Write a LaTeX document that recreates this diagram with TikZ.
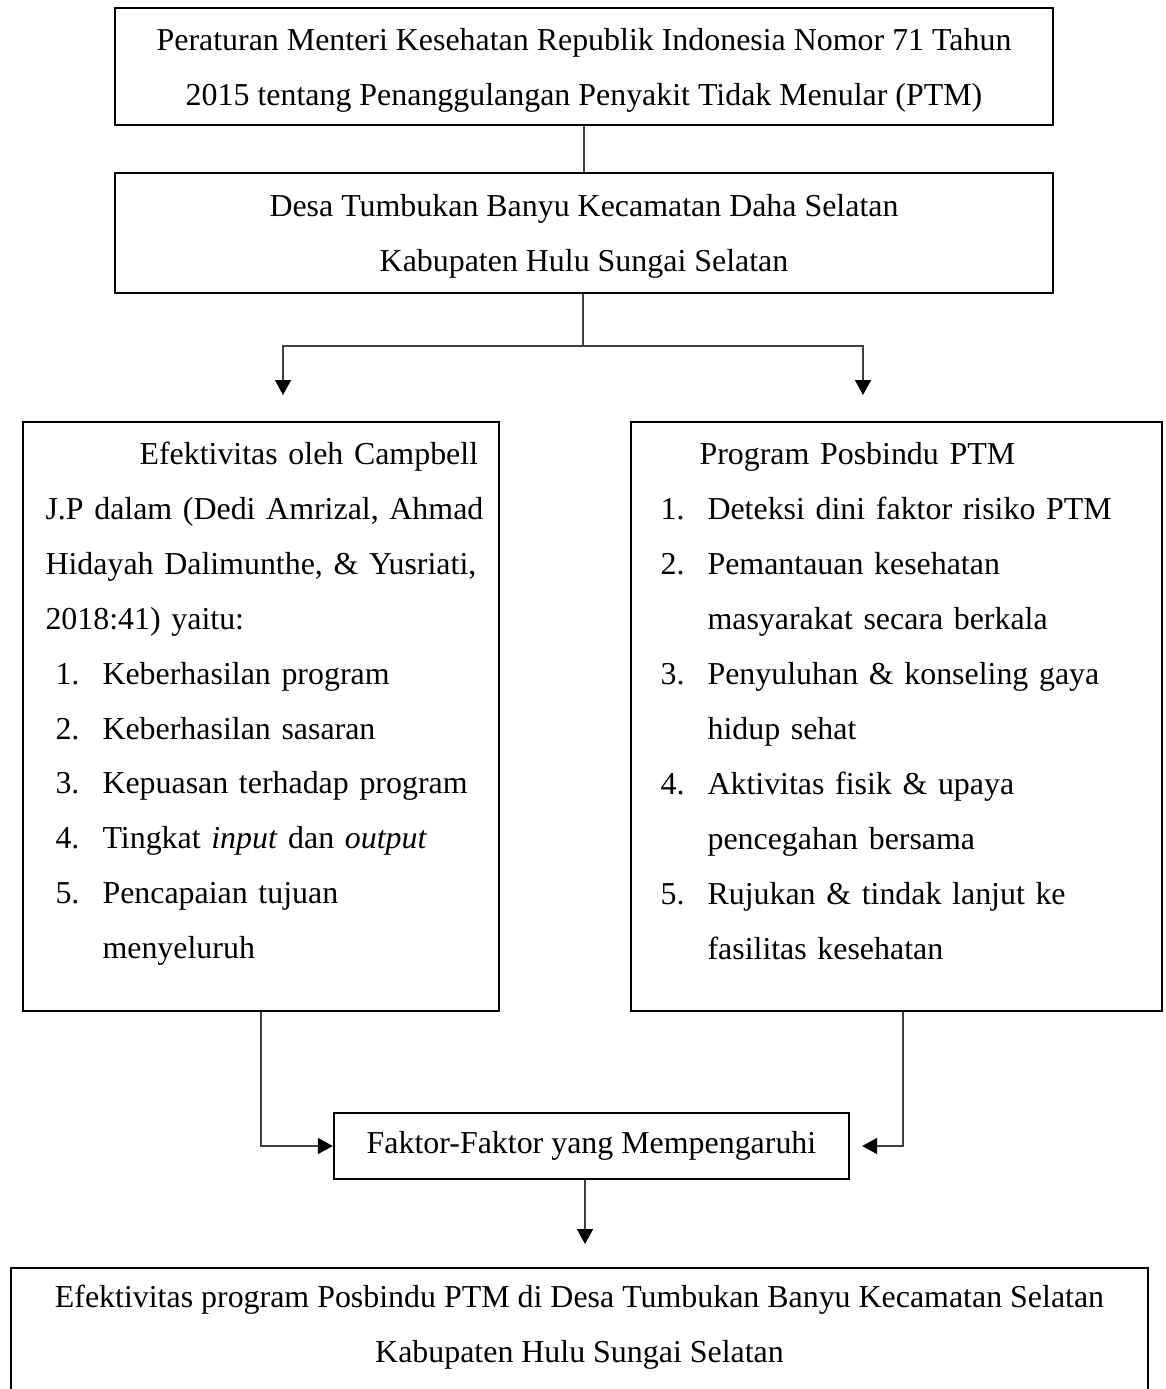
\documentclass[tikz,border=0pt]{standalone}
\usepackage{fontspec}
\setmainfont{Liberation Serif}
\usetikzlibrary{arrows.meta,positioning,calc}
\newlength\pxu
\setlength\pxu{0.376pt}
\newcommand\itm[2]{\makebox[47\pxu][l]{#1}#2}% number column + item text
\tikzset{
	frame/.style={draw,line width=0.9pt,inner sep=0pt,font=\fontsize{12}{20.68}\selectfont,align=center},
	txt/.style={inner sep=0pt,font=\fontsize{12}{20.68}\selectfont,align=left},
	conn/.style={draw=black!75,line width=0.5pt},
	flow/.style={conn,-{Triangle[length=5.6pt,width=6pt,black]}},
}

\begin{document}
\begin{tikzpicture}[x=0.376pt,y=-0.376pt]
	\useasboundingbox (0,0) rectangle (1165,1389);
	% top boxes
	\node[frame,minimum width=938\pxu,minimum height=117\pxu,text depth=0pt] (perm) at (584,66.5) {Peraturan Menteri Kesehatan Republik Indonesia Nomor 71 Tahun\\2015 tentang Penanggulangan Penyakit Tidak Menular (PTM)};
	\node[frame,minimum width=938\pxu,minimum height=120\pxu,text depth=0pt] (desa) at (584,233) {Desa Tumbukan Banyu Kecamatan Daha Selatan\\Kabupaten Hulu Sungai Selatan};
	% two panels
	\node[frame,minimum width=476\pxu,minimum height=589\pxu] (efek) at (261,716.5) {};
	\node[frame,minimum width=531\pxu,minimum height=589\pxu] (posb) at (896.5,716.5) {};
	\node[txt,text width=433\pxu,anchor=north west] (efektxt) at (45,441) {%
		\hspace*{94\pxu}\makebox[339\pxu][s]{Efektivitas oleh Campbell}\\
		\makebox[433\pxu][s]{J.P dalam (Dedi Amrizal, Ahmad}\\
		\makebox[433\pxu][s]{Hidayah Dalimunthe, \& Yusriati,}\\
		2018:41) yaitu:\\
		\hspace*{10\pxu}\itm{1.}{Keberhasilan program}\\
		\hspace*{10\pxu}\itm{2.}{Keberhasilan sasaran}\\
		\hspace*{10\pxu}\itm{3.}{Kepuasan terhadap program}\\
		\hspace*{10\pxu}\itm{4.}{Tingkat \textit{input} dan \textit{output}}\\
		\hspace*{10\pxu}\itm{5.}{Pencapaian tujuan}\\
		\hspace*{57\pxu}menyeluruh};
	\node[txt,text width=490\pxu,anchor=north west] (posbtxt) at (660,442) {%
		\hspace*{39\pxu}Program Posbindu PTM\\
		\itm{1.}{Deteksi dini faktor risiko PTM}\\
		\itm{2.}{Pemantauan kesehatan}\\
		\hspace*{47\pxu}masyarakat secara berkala\\
		\itm{3.}{Penyuluhan \& konseling gaya}\\
		\hspace*{47\pxu}hidup sehat\\
		\itm{4.}{Aktivitas fisik \& upaya}\\
		\hspace*{47\pxu}pencegahan bersama\\
		\itm{5.}{Rujukan \& tindak lanjut ke}\\
		\hspace*{47\pxu}fasilitas kesehatan};
	% factors and result
	\node[frame,minimum width=515\pxu,minimum height=66\pxu] (fakt) at (591.5,1146) {Faktor-Faktor yang Mempengaruhi};
	\node[frame,minimum width=1137\pxu,minimum height=160\pxu,anchor=north] (hasil) at (579.5,1267) {};
	\node[txt,align=center] (hasiltxt) at (579.5,1327.5) {Efektivitas program Posbindu PTM di Desa Tumbukan Banyu Kecamatan Selatan\\Kabupaten Hulu Sungai Selatan};
	% connectors
	\coordinate (fork) at (583,346);
	\coordinate (tipL) at (283,395);
	\coordinate (tipR) at (863,395);
	\coordinate (tipB) at (585,1244);
	\draw[conn] (perm) -- (desa);
	\draw[conn] (desa.south -| fork) -- (fork);
	\draw[flow] (fork) -| (tipL);
	\draw[flow] (fork) -| (tipR);
	\draw[flow] (efek.south) |- (fakt.west);
	\draw[flow,shorten >=12\pxu] ([xshift=6.5\pxu]posb.south) |- (fakt.east);
	\draw[flow] (fakt.south -| tipB) -- (tipB);
\end{tikzpicture}
\end{document}
